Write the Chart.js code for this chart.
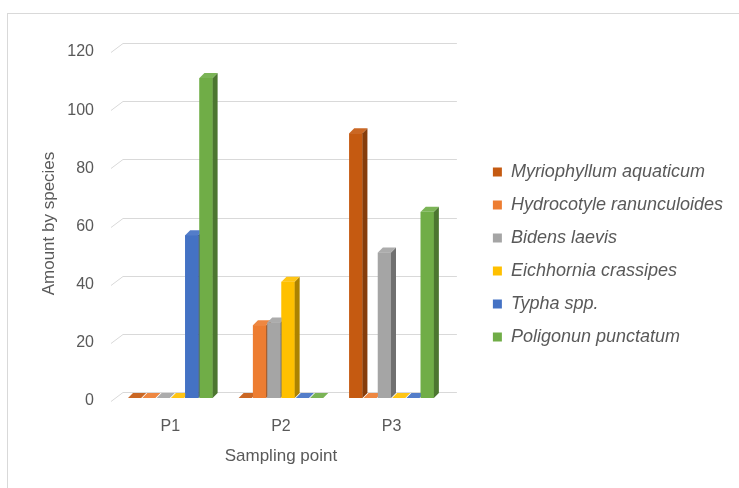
<!DOCTYPE html>
<html>
<head>
<meta charset="utf-8">
<script src="https://cdn.jsdelivr.net/npm/chart.js@4/dist/chart.umd.min.js"></script>
<style>
  html, body { margin: 0; padding: 0; background: #fff; overflow: hidden; }
  #frame { position: absolute; left: 7px; top: 13px; width: 800px; height: 600px; border: 1px solid #d9d9d9; }
  #chart { position: absolute; left: 0; top: 0; }
</style>
</head>
<body>
<div id="frame"></div>
<canvas id="chart" width="739" height="488"></canvas>
<script>
// data
const categories = ["P1", "P2", "P3"];
const species = [
  "Myriophyllum aquaticum",
  "Hydrocotyle ranunculoides",
  "Bidens laevis",
  "Eichhornia crassipes",
  "Typha spp.",
  "Poligonun punctatum"
];
const myriophyllum = [0, 0, 91];
const hydrocotyle = [0, 25, 0];
const bidens = [0, 26, 50];
const eichhornia = [0, 40, 0];
const typha = [56, 0, 0];
const poligonun = [110, 0, 64];
const colors = ["#C55A11", "#ED7D31", "#A5A5A5", "#FFC000", "#4472C4", "#70AD47"];
const yMin = 0, yMax = 120, yStep = 20;

const seriesValues = [myriophyllum, hydrocotyle, bidens, eichhornia, typha, poligonun];
const textColor = "#595959";

// darken / lighten a hex colour
function shade(hex, f) {
  const n = parseInt(hex.slice(1), 16);
  let r = (n >> 16) & 255, g = (n >> 8) & 255, b = n & 255;
  const c = v => Math.max(0, Math.min(255, Math.round(f < 1 ? v * f : v + (255 - v) * (f - 1))));
  return "rgb(" + c(r) + "," + c(g) + "," + c(b) + ")";
}

function poly(ctx, pts) {
  ctx.beginPath();
  ctx.moveTo(pts[0][0], pts[0][1]);
  for (let i = 1; i < pts.length; i++) ctx.lineTo(pts[i][0], pts[i][1]);
  ctx.closePath();
  ctx.fill();
}

// back wall grid lines with the little floor diagonal on the left
const wall3d = {
  id: "wall3d",
  beforeDatasetsDraw(chart) {
    const { ctx, chartArea: a, scales: { y } } = chart;
    ctx.save();
    ctx.strokeStyle = "#d9d9d9";
    ctx.lineWidth = 1;
    y.ticks.forEach(t => {
      const py = Math.round(y.getPixelForValue(t.value)) + 0.5;
      ctx.beginPath();
      ctx.moveTo(a.left - 4, py + 3);
      ctx.lineTo(a.left + 8, py - 6);
      ctx.lineTo(a.right + 10, py - 6);
      ctx.stroke();
    });
    ctx.restore();
  }
};

// side and top faces, drawn left to right so each bar covers its neighbour's side
const bars3d = {
  id: "bars3d",
  afterDatasetsDraw(chart) {
    const ctx = chart.ctx;
    const dx = 5, dy = -5;
    ctx.save();
    chart.data.labels.forEach((_, j) => {
      chart.data.datasets.forEach((ds, i) => {
        const bar = chart.getDatasetMeta(i).data[j];
        const { x, y, base, width } = bar.getProps(["x", "y", "base", "width"], true);
        const l = x - width / 2, r = x + width / 2;
        const col = ds.backgroundColor;
        ctx.fillStyle = col;
        ctx.fillRect(l, y, width, base - y);
        ctx.fillStyle = shade(col, 0.68);
        poly(ctx, [[r, y], [r + dx, y + dy], [r + dx, base + dy], [r, base]]);
        ctx.fillStyle = shade(col, 1.08);
        poly(ctx, [[l, y], [l + dx, y + dy], [r + dx, y + dy], [r, y]]);
      });
    });
    ctx.restore();
  }
};

const chart = new Chart(document.getElementById("chart"), {
  type: "bar",
  data: {
    labels: categories,
    datasets: species.map((name, i) => ({
      label: name,
      data: seriesValues[i],
      backgroundColor: colors[i],
      borderWidth: 0,
      categoryPercentage: 0.775,
      barPercentage: 0.92
    }))
  },
  plugins: [wall3d, bars3d],
  options: {
    responsive: false,
    animation: false,
    devicePixelRatio: 1,
    layout: { padding: { top: 49, left: 0, right: 6, bottom: 28 } },
    plugins: {
      tooltip: { enabled: false },
      legend: {
        position: "right",
        fullSize: true,
        maxWidth: 270,
        labels: {
          boxWidth: 9,
          boxHeight: 9,
          padding: 15,
          color: textColor,
          font: { family: "Liberation Sans", size: 18, style: "italic" }
        }
      }
    },
    scales: {
      x: {
        grid: { display: false, drawTicks: false },
        border: { display: false },
        ticks: { color: textColor, padding: 19, font: { family: "Liberation Sans", size: 16 } },
        title: {
          display: true,
          text: "Sampling point",
          color: textColor,
          font: { family: "Liberation Sans", size: 17 },
          padding: { top: 0, bottom: -7 }
        },
        afterFit(scale) { scale.height = 62; }
      },
      y: {
        min: yMin,
        max: yMax,
        grid: { display: false, drawTicks: false },
        border: { display: false },
        ticks: {
          stepSize: yStep,
          color: textColor,
          padding: 21,
          labelOffset: 3,
          font: { family: "Liberation Sans", size: 16 }
        },
        title: {
          display: true,
          text: "Amount by species",
          color: textColor,
          font: { family: "Liberation Sans", size: 17 },
          padding: { top: 39, bottom: 0 }
        },
        afterFit(scale) { scale.width = 115; }
      },
      spacer: {
        position: "right",
        display: true,
        grid: { display: false, drawTicks: false },
        border: { display: false },
        ticks: { display: false },
        afterFit(scale) { scale.width = 31; }
      }
    }
  }
});
</script>
</body>
</html>
